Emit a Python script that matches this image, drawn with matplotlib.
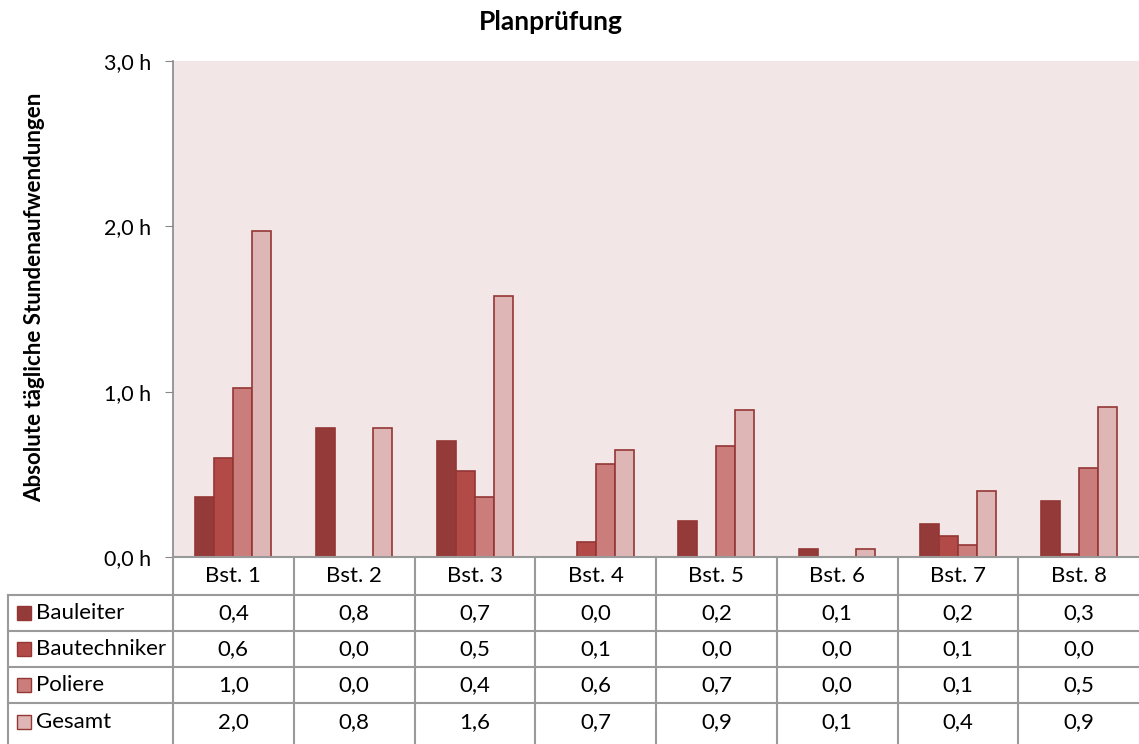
import matplotlib.pyplot as plt
import numpy as np

plt.rcParams['font.family'] = ['Lato', 'DejaVu Sans']

# data (hours per day)
categories = ["Bst. 1", "Bst. 2", "Bst. 3", "Bst. 4", "Bst. 5", "Bst. 6", "Bst. 7", "Bst. 8"]
series_names = ["Bauleiter", "Bautechniker", "Poliere", "Gesamt"]
bauleiter = [0.36, 0.78, 0.70, 0.00, 0.22, 0.05, 0.20, 0.34]
bautechniker = [0.60, 0.00, 0.52, 0.09, 0.00, 0.00, 0.13, 0.02]
poliere = [1.02, 0.00, 0.36, 0.56, 0.67, 0.00, 0.07, 0.54]
gesamt = [1.97, 0.78, 1.58, 0.65, 0.89, 0.05, 0.40, 0.91]
y_ticks = [0, 1, 2, 3]

colors = ["#943A39", "#B24A48", "#CB7D7C", "#DFB6B6"]
edge = "#943634"
W, H = 1139, 744
fs = 16

fig = plt.figure(figsize=(W / 100, H / 100), dpi=100)
fig.patch.set_facecolor("white")

# main plot area in pixel units
left, right, top, bottom = 173, 1139, 61, 557
ax = fig.add_axes([left / W, 1 - bottom / H, (right - left) / W, (bottom - top) / H])
ax.set_facecolor("#F2E6E6")

x = np.arange(len(categories))
bw = 0.157
values = [bauleiter, bautechniker, poliere, gesamt]
for i, (name, vals) in enumerate(zip(series_names, values)):
    ax.bar(x + (i - 1.5) * bw, vals, width=bw, color=colors[i],
           edgecolor=edge, linewidth=1.2, label=name, zorder=2)

ax.set_xlim(-0.5, len(categories) - 0.5)
ax.set_ylim(0, 3)
ax.set_yticks(y_ticks)
ax.set_yticklabels([f"{v:.1f} h".replace(".", ",") for v in y_ticks], fontsize=15.5)
ax.tick_params(axis="y", length=6, color="#888888", pad=10)
ax.set_xticks([])
for s in ["top", "right"]:
    ax.spines[s].set_visible(False)
ax.spines["left"].set_color("#888888")
ax.spines["bottom"].set_color("#999999")
ax.spines["left"].set_linewidth(1.2)
ax.spines["bottom"].set_linewidth(1.5)

fig.text(35 / W, 1 - 297 / H, "Absolute tägliche Stundenaufwendungen", rotation=90,
         ha="center", va="center", fontsize=16, fontweight="bold")
fig.text(551 / W, 1 - 22 / H, "Planprüfung", ha="center",
         va="center", fontsize=19, fontweight="bold")

# data table below the axes, pixel coordinates
tab = fig.add_axes([0, 0, 1, 1])
tab.set_xlim(0, W)
tab.set_ylim(H, 0)
tab.axis("off")
line_c = "#9A9A9A"
cw = (right - left) / len(categories)
row_y = [557, 595, 631, 667, 703, 741]
lab_x = 8

# horizontal lines
tab.plot([left, right], [row_y[1], row_y[1]], color=line_c, lw=1.5)
tab.plot([lab_x, left], [row_y[1], row_y[1]], color=line_c, lw=1.5)
for yy in row_y[2:5]:
    tab.plot([lab_x, right], [yy, yy], color=line_c, lw=1.5)
# vertical lines
tab.plot([lab_x, lab_x], [row_y[1], H], color=line_c, lw=1.5)
for j in range(len(categories)):
    xx = left + j * cw
    tab.plot([xx, xx], [row_y[0], H], color=line_c, lw=1.5)

for j, c in enumerate(categories):
    tab.text(left + (j + 0.5) * cw, (row_y[0] + row_y[1]) / 2, c,
             ha="center", va="center", fontsize=fs)

for i, (name, vals) in enumerate(zip(series_names, values)):
    yc = (row_y[i + 1] + row_y[i + 2]) / 2
    tab.add_patch(plt.Rectangle((17, yc - 7), 14, 14, facecolor=colors[i],
                                edgecolor=edge, lw=1))
    tab.text(36, yc, name, ha="left", va="center", fontsize=fs)
    for j, v in enumerate(vals):
        tab.text(left + (j + 0.5) * cw, yc, f"{v:.1f}".replace(".", ","),
                 ha="center", va="center", fontsize=fs)

fig.savefig("out.png", dpi=100)
